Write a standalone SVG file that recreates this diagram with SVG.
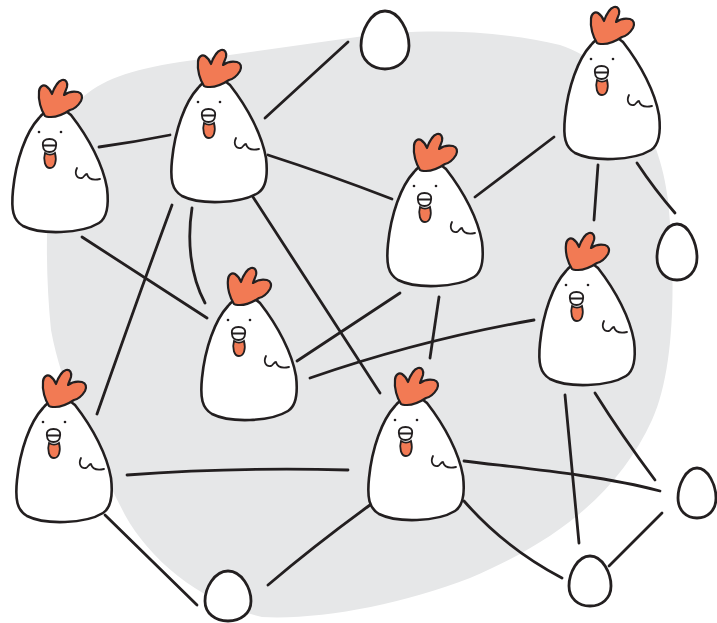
<svg xmlns="http://www.w3.org/2000/svg" xmlns:xlink="http://www.w3.org/1999/xlink" width="717" height="623" viewBox="0 0 717 623">
  <style>
    .line { fill: none; stroke: #231f20; stroke-width: 2.8; stroke-linecap: round; stroke-linejoin: round; }
    .outline { fill: #ffffff; stroke: #231f20; stroke-width: 2.6; stroke-linejoin: round; }
    .comb { fill: #f27a54; stroke: #231f20; stroke-width: 2.2; stroke-linejoin: round; }
    .wattle { fill: #f27a54; stroke: #231f20; stroke-width: 1.8; }
    .beak { fill: #ffffff; stroke: #231f20; stroke-width: 1.8; }
    .stroke { fill: none; stroke: #231f20; stroke-width: 1.8; stroke-linecap: round; stroke-linejoin: round; }
    .eye { fill: #231f20; }
    .egg { fill: #ffffff; stroke: #231f20; stroke-width: 2.8; stroke-linejoin: round; }
  </style>
  <defs>
    <!-- one hen, drawn in its own local frame -->
    <g id="hen">
      <path class="outline" d="M38,48 C25,62 15,90 12,120 C10,140 12,150 22,156 C40,165 80,164 98,153 C106,148 108,135 106,118 C102,95 88,68 70,45 C60,36 46,38 38,48 Z"/>
      <path class="comb" d="M44,46 C40,40 37,30 38,22 C38,17 42,14 45,16 C48,18 50,21 51,24 C53,18 57,11 61,10 C65,9 67,13 66,17 C65,20 64,22 63,25 C67,22 72,21 77,22 C81,23 82,27 80,31 C77,36 73,39 69,40 C63,44 56,47 50,47 C47,47 45,47 44,46 Z"/>
      <circle class="eye" cx="38" cy="62" r="1.3"/>
      <circle class="eye" cx="60" cy="62" r="1.3"/>
      <path class="wattle" d="M44,83 C42,90 44,98 49,98 C54,98 56,91 54,83 C51,85 47,85 44,83 Z"/>
      <path class="beak" d="M42,76 C41,71 44,69 48.5,69 C53,69 56,71 55,76 C55,80 52,82 48.5,82 C45,82 42,80 42,76 Z"/>
      <path class="stroke" d="M42.5,75.5 L54.5,75.5"/>
      <path class="stroke" d="M76,98 C73,104 76,109 81,108 C83,107 84,104 86,104 C87,108 90,111 99,109"/>
    </g>
  </defs>

  <!-- backdrop -->
  <path fill="#e6e7e8" d="M80,100 C100,80 130,70 180,62 L357,37 C420,28 500,30 560,45 C620,65 660,130 668,200 C676,280 675,370 652,420 C620,490 560,540 470,578 C400,605 320,620 262,617 C200,602 150,560 125,515 C92,450 62,390 51,330 C45,270 45,200 55,150 C60,125 68,110 80,100 Z"/>

  <!-- connectors -->
  <g id="connectors">
    <path class="line" d="M99,147 Q135,142 170,135"/>
    <path class="line" d="M265,118 L348,42"/>
    <path class="line" d="M268,155 Q330,175 392,199"/>
    <path class="line" d="M82,237 L207,318"/>
    <path class="line" d="M172,205 Q137,300 97,414"/>
    <path class="line" d="M192,208 C187,240 190,275 205,303"/>
    <path class="line" d="M253,197 L380,393"/>
    <path class="line" d="M475,197 L554,137"/>
    <path class="line" d="M598,165 L594,220"/>
    <path class="line" d="M637,163 Q655,190 675,213"/>
    <path class="line" d="M297,361 L400,293"/>
    <path class="line" d="M439,297 L430,358"/>
    <path class="line" d="M310,378 Q420,340 534,320"/>
    <path class="line" d="M127,475 Q235,467 348,470"/>
    <path class="line" d="M105,515 L197,605"/>
    <path class="line" d="M268,585 Q315,545 370,505"/>
    <path class="line" d="M464,461 C520,468 600,475 660,491"/>
    <path class="line" d="M565,395 L579,543"/>
    <path class="line" d="M595,393 Q622,436 655,480"/>
    <path class="line" d="M464,501 Q505,548 562,578"/>
    <path class="line" d="M662,513 L609,566"/>
  </g>

  <!-- hens -->
  <g id="hen-1" transform="translate(1,70)"><use href="#hen" xlink:href="#hen"/></g>
  <g id="hen-2" transform="translate(160,40)"><use href="#hen" xlink:href="#hen"/></g>
  <g id="hen-3" transform="translate(553,-3)"><use href="#hen" xlink:href="#hen"/></g>
  <g id="hen-4" transform="translate(376,124)"><use href="#hen" xlink:href="#hen"/></g>
  <g id="hen-5" transform="translate(190,258)"><use href="#hen" xlink:href="#hen"/></g>
  <g id="hen-6" transform="translate(528,223)"><use href="#hen" xlink:href="#hen"/></g>
  <g id="hen-7" transform="translate(5,360)"><use href="#hen" xlink:href="#hen"/></g>
  <g id="hen-8" transform="translate(357,358)"><use href="#hen" xlink:href="#hen"/></g>

  <!-- eggs -->
  <g id="egg-1"><path class="egg" d="M385,11 C399.4,11 409,31.3 409,45.8 C409,60.3 398.2,69 385,69 C371.8,69 361,60.3 361,45.8 C361,31.3 370.6,11 385,11 Z"/></g>
  <g id="egg-2"><path class="egg" d="M677,224 C689,224 697,243.6 697,257.6 C697,271.6 688,280 677,280 C666,280 657,271.6 657,257.6 C657,243.6 665,224 677,224 Z"/></g>
  <g id="egg-3"><path class="egg" d="M697,468 C708.4,468 716,485.5 716,498 C716,510.5 707.5,518 697,518 C686.5,518 678,510.5 678,498 C678,485.5 685.6,468 697,468 Z"/></g>
  <g id="egg-4"><path class="egg" d="M590,556 C602.6,556 611,573.5 611,586 C611,598.5 601.6,606 590,606 C578.4,606 569,598.5 569,586 C569,573.5 577.4,556 590,556 Z"/></g>
  <g id="egg-5"><path class="egg" d="M228,571 C241.8,571 251,588.5 251,601 C251,613.5 240.65,621 228,621 C215.35,621 205,613.5 205,601 C205,588.5 214.2,571 228,571 Z"/></g>
</svg>
